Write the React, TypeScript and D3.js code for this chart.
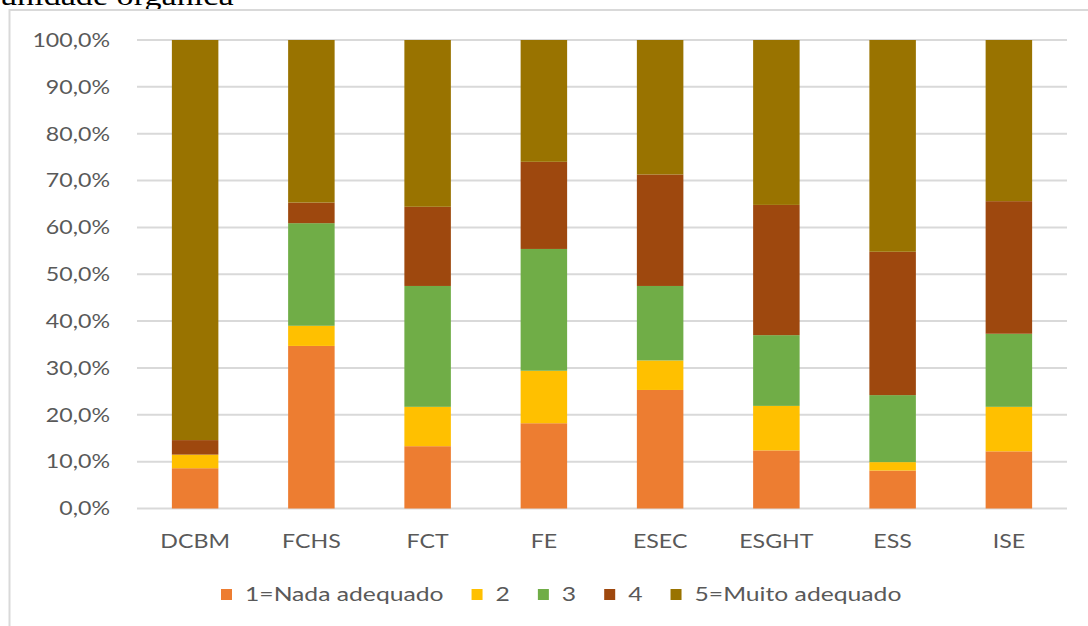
import React, { useEffect, useRef } from 'react';
import * as d3 from 'd3';

const categories = ['DCBM', 'FCHS', 'FCT', 'FE', 'ESEC', 'ESGHT', 'ESS', 'ISE'];
const seriesNames = ['1=Nada adequado', '2', '3', '4', '5=Muito adequado'];
const nada = [8.6, 34.7, 13.3, 18.2, 25.3, 12.4, 8.1, 12.2];
const dois = [2.9, 4.3, 8.4, 11.2, 6.3, 9.5, 1.8, 9.5];
const tres = [0, 21.9, 25.8, 26.0, 15.9, 15.1, 14.3, 15.6];
const quatro = [3.1, 4.4, 16.9, 18.6, 23.8, 27.8, 30.6, 28.3];
const muito = [85.4, 34.7, 35.6, 26.0, 28.7, 35.2, 45.2, 34.4];
const yTicks = [0, 10, 20, 30, 40, 50, 60, 70, 80, 90, 100];
const colors = ['#ED7D31', '#FFC000', '#70AD47', '#9E480E', '#997300'];
const titleText = 'unidade orgânica';

const W = 1088;
const H = 626;
const FONT = 'Lato, Carlito, Calibri, sans-serif';
const SX = 1.22;
const SXL = 1.3;
const FS = 19;

export default function App() {
  const ref = useRef<SVGSVGElement | null>(null);

  useEffect(() => {
    const svg = d3.select(ref.current);
    svg.selectAll('*').remove();

    const values = [nada, dois, tres, quatro, muito];
    const rows = categories.map((c, i) => {
      const r: any = { cat: c };
      seriesNames.forEach((s, k) => (r[s] = values[k][i]));
      return r;
    });
    const stacked = d3.stack<any>().keys(seriesNames)(rows);

    const left = 137, right = 1067, top = 40, bottom = 508.5;
    const x = d3.scaleBand<string>().domain(categories).range([left, right]).paddingInner(0.6).paddingOuter(0.3);
    const y = d3.scaleLinear().domain([0, 100]).range([bottom, top]);

    const loc = d3.formatLocale({ decimal: ',', thousands: '.', grouping: [3], currency: ['', ''] });
    const fmt = loc.format('.1f');

    svg.append('rect').attr('width', W).attr('height', H).attr('fill', '#fff');

    // clipped title from page above
    svg.append('g').attr('transform', 'translate(0,5)')
      .append('text').attr('transform', `scale(${SX},1)`)
      .attr('font-family', '"Liberation Serif", "Times New Roman", serif')
      .attr('font-size', 28).attr('fill', '#000').text(titleText);

    // chart border
    svg.append('rect').attr('x', 9.5).attr('y', 10).attr('width', W + 20).attr('height', H + 20)
      .attr('fill', 'none').attr('stroke', '#D9D9D9').attr('stroke-width', 2);

    // gridlines
    svg.append('g').selectAll('line').data(yTicks).join('line')
      .attr('x1', left).attr('x2', right)
      .attr('y1', d => y(d)).attr('y2', d => y(d))
      .attr('stroke', '#D9D9D9').attr('stroke-width', 2);

    // y tick labels
    const yl = svg.append('g').selectAll('g').data(yTicks).join('g')
      .attr('transform', d => `translate(110,${y(d)})`);
    yl.append('text').attr('transform', `scale(${SX},1)`)
      .attr('text-anchor', 'end').attr('dy', '0.36em')
      .attr('font-family', FONT).attr('font-size', FS).attr('fill', '#595959')
      .text(d => fmt(d) + '%');

    // bars
    svg.append('g').selectAll('g').data(stacked).join('g')
      .attr('fill', (_d, i) => colors[i])
      .selectAll('rect').data(d => d).join('rect')
      .attr('x', d => x(d.data.cat) as number)
      .attr('width', x.bandwidth())
      .attr('y', d => y(d[1]))
      .attr('height', d => Math.max(0, y(d[0]) - y(d[1])));

    // x labels
    const xl = svg.append('g').selectAll('g').data(categories).join('g')
      .attr('transform', d => `translate(${(x(d) as number) + x.bandwidth() / 2},548)`);
    xl.append('text').attr('transform', `scale(${SX},1)`)
      .attr('text-anchor', 'middle')
      .attr('font-family', FONT).attr('font-size', FS).attr('fill', '#595959')
      .text(d => d);

    // legend
    const lg = svg.append('g');
    let cx = 221;
    const ly = 601;
    seriesNames.forEach((s, i) => {
      lg.append('rect').attr('x', cx).attr('y', ly - 12).attr('width', 11).attr('height', 11).attr('fill', colors[i]);
      const g = lg.append('g').attr('transform', `translate(${cx + 24},${ly})`);
      const t = g.append('text').attr('transform', `scale(${SXL},1)`)
        .attr('font-family', FONT).attr('font-size', FS).attr('fill', '#595959').text(s);
      const w = (t.node() as SVGTextElement).getComputedTextLength() * SXL;
      cx = cx + 24 + w + 28;
    });
  }, []);

  return (
    <svg ref={ref} width={W} height={H} style={{ position: 'absolute', left: 0, top: 0 }} />
  );
}
